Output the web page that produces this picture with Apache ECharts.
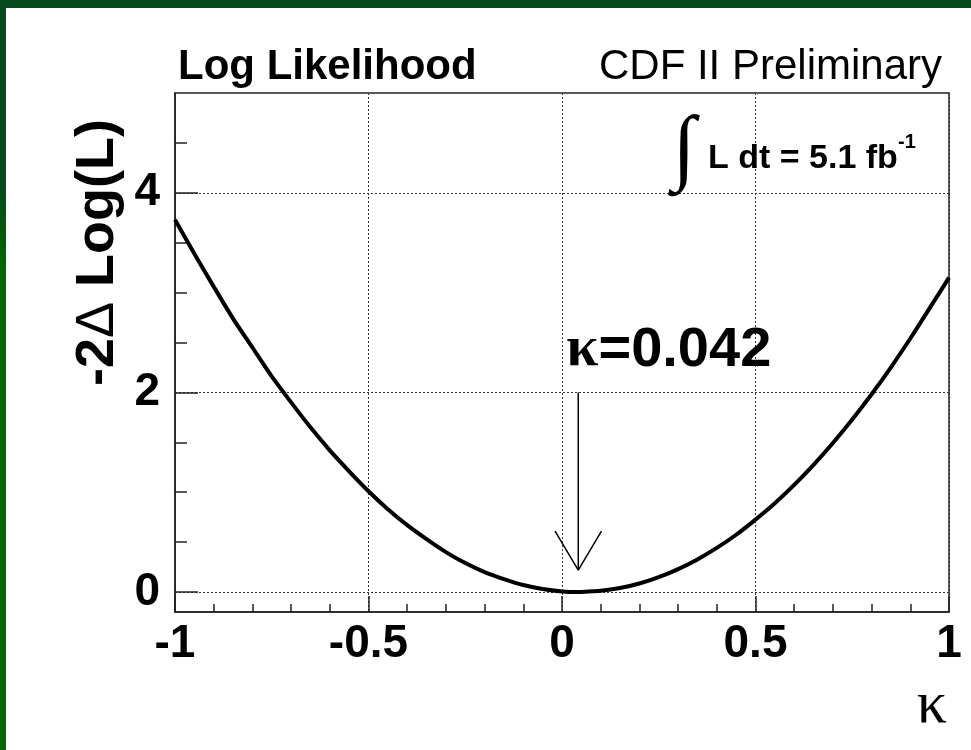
<!DOCTYPE html>
<html>
<head>
<meta charset="utf-8">
<script src="https://cdn.jsdelivr.net/npm/echarts@6/dist/echarts.min.js"></script>
<style>
  html, body { margin: 0; padding: 0; width: 971px; height: 750px; overflow: hidden; }
  body { background: linear-gradient(to bottom, #064a1d 0px, #064a1d 190px, #006400 260px, #006400 750px); }
  #paper { position: absolute; left: 6px; top: 8px; width: 965px; height: 742px; background: #ffffff; }
  #chart { position: absolute; left: 0; top: 0; width: 971px; height: 750px; }
</style>
</head>
<body>
<div id="paper"></div>
<div id="chart"></div>
<script>
// Likelihood scan: -2ΔlnL versus the coupling κ
const kappa = [
  -1.00, -0.95, -0.90, -0.85, -0.80, -0.75, -0.70, -0.65, -0.60, -0.55,
  -0.50, -0.45, -0.40, -0.35, -0.30, -0.25, -0.20, -0.15, -0.10, -0.05,
   0.00,  0.042, 0.05,  0.10,  0.15,  0.20,  0.25,  0.30,  0.35,  0.40,
   0.45,  0.50,  0.55,  0.60,  0.65,  0.70,  0.75,  0.80,  0.85,  0.90,
   0.95,  1.00
];
const deltaLogL = [
  3.73, 3.39, 3.06, 2.74, 2.45, 2.16, 1.90, 1.65, 1.42, 1.21,
  1.01, 0.83, 0.67, 0.53, 0.40, 0.29, 0.20, 0.13, 0.07, 0.03,
  0.006, 0.000, 0.0003, 0.012, 0.040, 0.086, 0.149, 0.230, 0.327, 0.442,
  0.574, 0.726, 0.890, 1.074, 1.275, 1.494, 1.729, 1.982, 2.252, 2.540,
  2.844, 3.150
];

// best-fit value marked by the arrow
const kappaBest = 0.042;

// axis ticks
const xRange = [-1, 1];
const yRange = [-0.2, 5];
const yMajorTicks = [0, 2, 4];
const yMinorTicks = [0.5, 1, 1.5, 2.5, 3, 3.5, 4.5];

// annotation geometry (in data units)
const arrowTop = 2.0;
const arrowTip = 0.22;
const headHalfWidth = 0.06;
const headTop = 0.61;

const SANS = '"Liberation Sans", Arial, Helvetica, sans-serif';
const SERIF = '"Liberation Serif", "Times New Roman", serif';
const INK = '#000';
const FRAME = '#222';

const curve = kappa.map((k, i) => [k, deltaLogL[i]]);
const shaft = [[kappaBest, arrowTop], [kappaBest, arrowTip]];
const head = [[kappaBest - headHalfWidth, headTop], [kappaBest, arrowTip], [kappaBest + headHalfWidth, headTop]];

const chart = echarts.init(document.getElementById('chart'), null, { renderer: 'canvas' });

const option = {
  animation: false,
  backgroundColor: 'transparent',
  grid: {
    left: 175, top: 93, right: 22, bottom: 138,
    show: true, borderColor: FRAME, borderWidth: 1.5, backgroundColor: 'transparent'
  },
  xAxis: {
    type: 'value', min: xRange[0], max: xRange[1], interval: 0.5,
    axisLine: { show: true, onZero: false, lineStyle: { color: FRAME, width: 1.5 } },
    axisTick: { show: true, inside: true, length: 16, lineStyle: { color: FRAME, width: 1.5 } },
    minorTick: { show: true, splitNumber: 5, length: 8, lineStyle: { color: FRAME, width: 1.5 } },
    axisLabel: { color: INK, fontFamily: SANS, fontWeight: 'bold', fontSize: 46, margin: 9 },
    splitLine: { show: true, lineStyle: { color: '#333', width: 1, type: [2, 2] } }
  },
  yAxis: [
    {
      type: 'value', min: yRange[0], max: yRange[1],
      axisLine: { show: true, onZero: false, lineStyle: { color: FRAME, width: 1.5 } },
      axisTick: { show: true, inside: true, length: 23, customValues: yMajorTicks, lineStyle: { color: FRAME, width: 1.5 } },
      axisLabel: { customValues: yMajorTicks, color: INK, fontFamily: SANS, fontWeight: 'bold', fontSize: 46, margin: 15 },
      splitLine: { show: true, lineStyle: { color: '#333', width: 1, type: [2, 2] } }
    },
    {
      type: 'value', min: yRange[0], max: yRange[1], position: 'left',
      axisLine: { show: false, onZero: false },
      axisTick: { show: true, inside: true, length: 12, customValues: yMinorTicks, lineStyle: { color: FRAME, width: 1.5 } },
      axisLabel: { show: false },
      splitLine: { show: false }
    }
  ],
  series: [
    {
      name: 'scan', type: 'line', data: curve, yAxisIndex: 0,
      showSymbol: false, smooth: 0.2, z: 5,
      lineStyle: { color: INK, width: 4 }
    },
    {
      name: 'shaft', type: 'line', data: shaft, yAxisIndex: 0,
      showSymbol: false, z: 4, lineStyle: { color: INK, width: 1.5 }
    },
    {
      name: 'head', type: 'line', data: head, yAxisIndex: 0,
      showSymbol: false, z: 4, lineStyle: { color: INK, width: 1.5 }
    }
  ]
};
chart.setOption(option);

// text placed relative to the best-fit arrow
const arrowTopPx = chart.convertToPixel({ xAxisIndex: 0, yAxisIndex: 0 }, [kappaBest, arrowTop]);

chart.setOption({
  graphic: [
    {
      type: 'text', x: 178, y: 67,
      style: { text: 'Log Likelihood', font: 'bold 42px ' + SANS, fill: INK, align: 'left', verticalAlign: 'middle' }
    },
    {
      type: 'text', x: 942, y: 67,
      style: { text: 'CDF II Preliminary', font: '42px ' + SANS, fill: INK, align: 'right', verticalAlign: 'middle' }
    },
    {
      type: 'text', x: 684, y: 152,
      style: { text: '\u222B', font: '84px "Liberation Serif", serif', fill: INK, align: 'center', verticalAlign: 'middle' }
    },
    {
      type: 'text', x: 708, y: 159,
      style: { text: 'L dt = 5.1 fb', font: 'bold 34px ' + SANS, fill: INK, align: 'left', verticalAlign: 'middle' }
    },
    {
      type: 'text', x: 898, y: 142,
      style: { text: '-1', font: 'bold 20px ' + SANS, fill: INK, align: 'left', verticalAlign: 'middle' }
    },
    {
      type: 'text', x: 98, y: 119, rotation: Math.PI / 2,
      style: {
        text: '{b|-2}{d|\u0394}{b| Log(L)}', align: 'right', verticalAlign: 'middle',
        rich: {
          b: { fontFamily: SANS, fontWeight: 'bold', fontSize: 54, fill: INK, color: INK },
          d: { fontFamily: SANS, fontWeight: 'normal', fontSize: 54, fill: INK, color: INK }
        }
      }
    },
    {
      type: 'text', x: 947, y: 706,
      style: { text: '\u03BA', font: '60px ' + SERIF, fill: INK, align: 'right', verticalAlign: 'middle' }
    },
    {
      type: 'text', x: arrowTopPx[0] - 12, y: arrowTopPx[1] - 42,
      style: {
        text: '{k|\u03BA}{n|=' + kappaBest.toFixed(3) + '}',
        align: 'left', verticalAlign: 'middle',
        rich: {
          k: { fontFamily: SERIF, fontWeight: 'bold', fontSize: 58, fill: INK, color: INK },
          n: { fontFamily: SANS, fontWeight: 'bold', fontSize: 56, fill: INK, color: INK }
        }
      }
    }
  ]
});
</script>
</body>
</html>
